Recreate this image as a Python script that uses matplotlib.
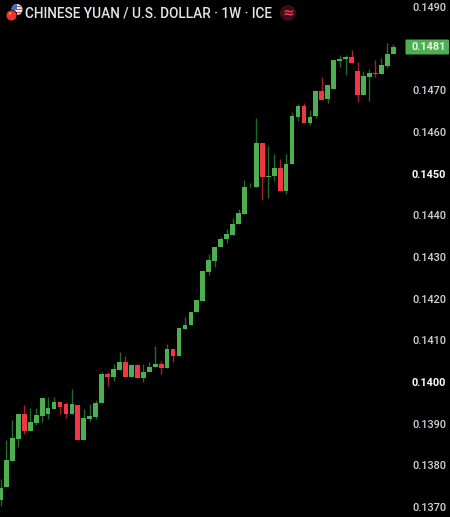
import matplotlib
matplotlib.use("Agg")
import matplotlib.pyplot as plt
from matplotlib.patches import Circle, Rectangle, FancyBboxPatch
import numpy as np

opens = [0.13717,0.13747,0.13810,0.13864,0.13922,0.13883,0.13902,0.13918,0.13922,0.13936,
         0.13952,0.13946,0.13924,0.13944,0.13860,0.13912,0.13917,0.13949,0.14018,0.14013,
         0.14029,0.14049,0.14013,0.14040,0.14010,0.14023,0.14036,0.14042,0.14034,0.14079,
         0.14063,0.14127,0.14137,0.14168,0.14195,0.14264,0.14291,0.14324,0.14342,0.14353,
         0.14378,0.14403,0.14467,0.14467,0.14574,0.14492,0.14494,0.14514,0.14459,0.14522,
         0.14637,0.14662,0.14621,0.14638,0.14698,0.14678,0.14702,0.14771,0.14774,0.14780,
         0.14746,0.14688,0.14732,0.14741,0.14738,0.14759,0.14787]
closes = [0.13745,0.13813,0.13866,0.13922,0.13883,0.13905,0.13920,0.13961,0.13937,0.13952,
          0.13941,0.13924,0.13946,0.13860,0.13913,0.13918,0.13950,0.14018,0.14012,0.14030,
          0.14049,0.14013,0.14040,0.14010,0.14025,0.14037,0.14042,0.14034,0.14079,0.14063,
          0.14129,0.14137,0.14169,0.14197,0.14266,0.14293,0.14325,0.14344,0.14354,0.14379,
          0.14405,0.14467,0.14469,0.14574,0.14491,0.14494,0.14514,0.14459,0.14523,0.14638,
          0.14662,0.14621,0.14637,0.14698,0.14677,0.14713,0.14773,0.14774,0.14780,0.14766,
          0.14688,0.14734,0.14741,0.14739,0.14761,0.14787,0.14805]
highs = [0.13767,0.13861,0.13909,0.13922,0.13945,0.13938,0.13938,0.13961,0.13965,0.13965,
         0.13952,0.13952,0.13982,0.13944,0.13934,0.13947,0.13957,0.14025,0.14023,0.14043,
         0.14072,0.14062,0.14043,0.14043,0.14042,0.14047,0.14086,0.14051,0.14091,0.14079,
         0.14129,0.14156,0.14169,0.14197,0.14266,0.14307,0.14325,0.14349,0.14367,0.14394,
         0.14414,0.14485,0.14477,0.14633,0.14574,0.14567,0.14546,0.14534,0.14546,0.14649,
         0.14667,0.14669,0.14653,0.14698,0.14731,0.14713,0.14773,0.14785,0.14785,0.14797,
         0.14767,0.14747,0.14750,0.14773,0.14777,0.14814,0.14811]
lows = [0.13702,0.13747,0.13810,0.13845,0.13874,0.13883,0.13897,0.13905,0.13910,0.13936,
        0.13922,0.13914,0.13924,0.13860,0.13860,0.13907,0.13912,0.13949,0.13990,0.14003,
        0.14029,0.14013,0.14013,0.14010,0.14001,0.14023,0.14036,0.14020,0.14034,0.14047,
        0.14063,0.14127,0.14137,0.14168,0.14195,0.14257,0.14277,0.14324,0.14334,0.14353,
        0.14378,0.14403,0.14467,0.14467,0.14437,0.14442,0.14483,0.14459,0.14450,0.14522,
        0.14627,0.14621,0.14617,0.14634,0.14677,0.14670,0.14702,0.14757,0.14737,0.14766,
        0.14673,0.14688,0.14675,0.14731,0.14738,0.14753,0.14787]
tick_values = [0.1370,0.1380,0.1390,0.1400,0.1410,0.1420,0.1430,0.1440,0.1450,0.1460,0.1470,0.1490]
bold_ticks = [0.1400,0.1450]
last_label = "0.1481"
title = "CHINESE YUAN / U.S. DOLLAR · 1W · ICE"

GREEN = "#4CAF50"; RED = "#F23645"; WGREEN = "#1F6B2A"; WRED = "#A3222F"
W, H = 450, 517
plt.rcParams['font.family'] = ['Roboto', 'DejaVu Sans']
fig = plt.figure(figsize=(W/100, H/100), dpi=100, facecolor="black")

ax_right = 405
ax = fig.add_axes([0, 0, ax_right/W, 1], facecolor="black")
o, c, h, l = map(np.array, (opens, closes, highs, lows))
x = np.arange(len(o))
up = c >= o
colors = np.where(up, GREEN, RED)
wicks = np.where(up, WGREEN, WRED)
ax.vlines(x, l, h, colors=wicks, linewidth=1.0, zorder=1)
ax.bar(x, np.maximum(np.abs(c-o), 0.00002), bottom=np.minimum(o, c), width=0.80,
       color=colors, linewidth=0, zorder=2)

step = 5.95
ax.set_xlim(-0.5/step, (ax_right-0.5)/step)
ax.set_ylim(0.137-10/41667, 0.137+507/41667)
ax.yaxis.tick_right()
ax.set_yticks(tick_values)
ax.set_yticklabels([f"{t:.4f}" for t in tick_values])
ax.tick_params(axis="y", length=0, pad=5, labelsize=7.8, labelcolor="#D1D4DC")
for t, lab in zip(tick_values, ax.get_yticklabels()):
    lab.set_fontweight("medium")
    if t in bold_ticks:
        lab.set_fontweight("bold")
        lab.set_color("#FFFFFF")
ax.set_xticks([])
for s in ax.spines.values():
    s.set_visible(False)

ov = fig.add_axes([0, 0, 1, 1], facecolor="none")
ov.set_xlim(0, W); ov.set_ylim(H, 0); ov.axis("off")
ov.add_patch(FancyBboxPatch((405.5, 39.5), 43.5, 15, boxstyle="round,pad=0,rounding_size=1",
                            fc=GREEN, ec="none"))
ov.text(428.5, 47.3, last_label, color="#E8F5E9", fontsize=7.8, fontweight="bold",
        ha="center", va="center")
ov.text(25, 13.5, title, color="#E3E5EA", fontsize=9.85, fontweight="medium", ha="left", va="center")

# flags
us = Circle((17, 9.5), 5.5, fc="#E8E8F0", ec="none"); ov.add_patch(us)
for yy in (5.5, 8.5, 11.5):
    r = Rectangle((11, yy), 12, 1.4, fc="#D9414E", ec="none"); ov.add_patch(r); r.set_clip_path(us)
cant = Rectangle((11, 3), 6, 6, fc="#3D6FC0", ec="none"); ov.add_patch(cant); cant.set_clip_path(us)
ov.add_patch(Circle((11.5, 15.5), 5.5, fc="#E8352E", ec="black", lw=0.6))
ov.add_patch(Circle((10, 13.5), 1.1, fc="#F5C02A", ec="none"))

# badge
ov.add_patch(Circle((288, 13), 8, fc="#3A0E18", ec="none"))
ov.text(288, 12.6, "≈", color="#F23645", fontsize=10, ha="center", va="center",
        family="DejaVu Sans", fontweight="bold")

fig.savefig("out.png", dpi=100, facecolor="black")
